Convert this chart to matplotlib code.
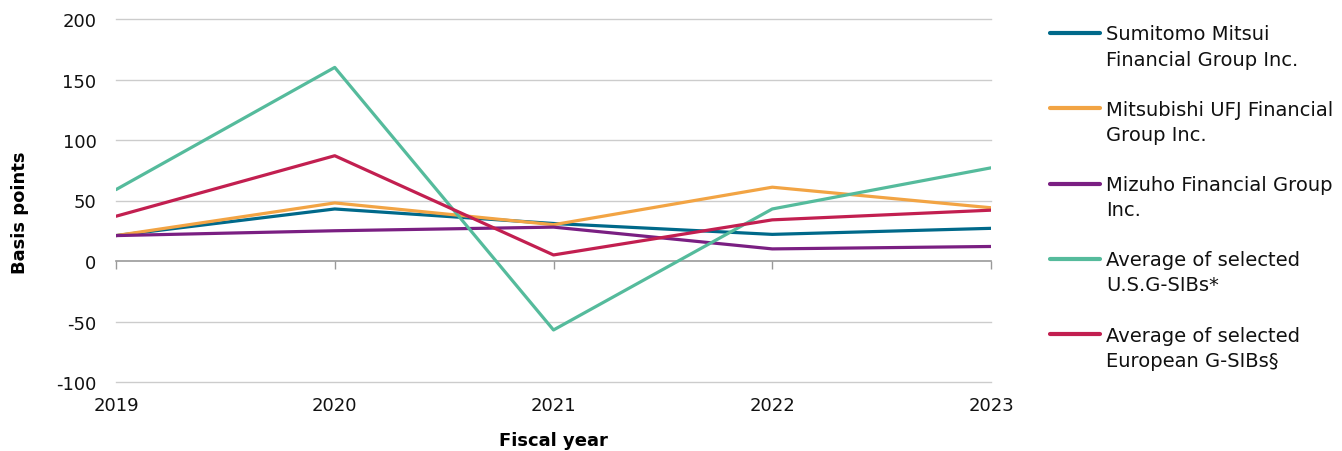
import matplotlib
matplotlib.use("Agg")
import matplotlib.pyplot as plt
from matplotlib.lines import Line2D

years = [2019, 2020, 2021, 2022, 2023]
smfg = [21, 43, 31, 22, 27]
mufg = [21, 48, 30, 61, 44]
mizuho = [21, 25, 28, 10, 12]
us_gsib = [59, 160, -57, 43, 77]
eu_gsib = [37, 87, 5, 34, 42]

labels = ["Sumitomo Mitsui\nFinancial Group Inc.",
          "Mitsubishi UFJ Financial\nGroup Inc.",
          "Mizuho Financial Group\nInc.",
          "Average of selected\nU.S.G-SIBs*",
          "Average of selected\nEuropean G-SIBs§"]
colors = ["#00698A", "#F2A444", "#7A1F82", "#55BB9C", "#C21F50"]
yticks = [-100, -50, 0, 50, 100, 150, 200]

plt.rcParams['font.family'] = ['DejaVu Sans']
FS = 13
LFS = 14

W, H = 1342, 452
fig = plt.figure(figsize=(W/100, H/100), dpi=100)
ax = fig.add_axes([116/W, 1-383/H, (991-116)/W, (383-20)/H])

series = [smfg, mufg, mizuho, us_gsib, eu_gsib]
for s, c, l in zip(series, colors, labels):
    ax.plot(years, s, color=c, lw=2.3, label=l, solid_capstyle='round', zorder=3)

ax.set_xlim(2019, 2023)
ax.set_ylim(-100, 200)
ax.set_yticks(yticks)
ax.set_yticklabels([str(v) for v in yticks])
for v in yticks:
    if v != 0:
        ax.axhline(v, color="#cccccc", lw=1, zorder=1, clip_on=False)

for sp in ["top", "right", "left"]:
    ax.spines[sp].set_visible(False)
ax.spines["bottom"].set_position(("data", 0))
ax.spines["bottom"].set_color("#999999")
ax.spines["bottom"].set_linewidth(1.2)
ax.spines["bottom"].set_zorder(2)
ax.set_xticks(years)
ax.tick_params(axis="x", direction="out", length=6, color="#999999", width=1, labelbottom=False)
ax.tick_params(axis="y", length=0, pad=14, labelsize=FS, labelcolor="#111111")

sec = ax.secondary_xaxis("bottom")
sec.set_xticks(years)
sec.set_xticklabels([str(y) for y in years])
sec.tick_params(length=0, pad=10, labelsize=FS, labelcolor="#111111")
sec.spines["bottom"].set_visible(False)
sec.set_xlabel("Fiscal year", fontsize=FS, fontweight="bold", labelpad=12)

ax.set_ylabel("Basis points", fontsize=FS, fontweight="bold")
ax.yaxis.set_label_coords(-0.099, 0.468)

# manual legend: handle aligned with first text line
for i, (c, l) in enumerate(zip(colors, labels)):
    y0 = 34 + 75.3 * i
    fig.add_artist(Line2D([1050/W, 1100/W], [1-y0/H, 1-y0/H], color=c, lw=3,
                          transform=fig.transFigure, solid_capstyle='round'))
    for j, part in enumerate(l.split("\n")):
        fig.text(1106/W, 1-(y0 + 1 + 25*j)/H, part, fontsize=LFS, va="center",
                 ha="left", color="#111111")

fig.savefig("out.png", dpi=100)
